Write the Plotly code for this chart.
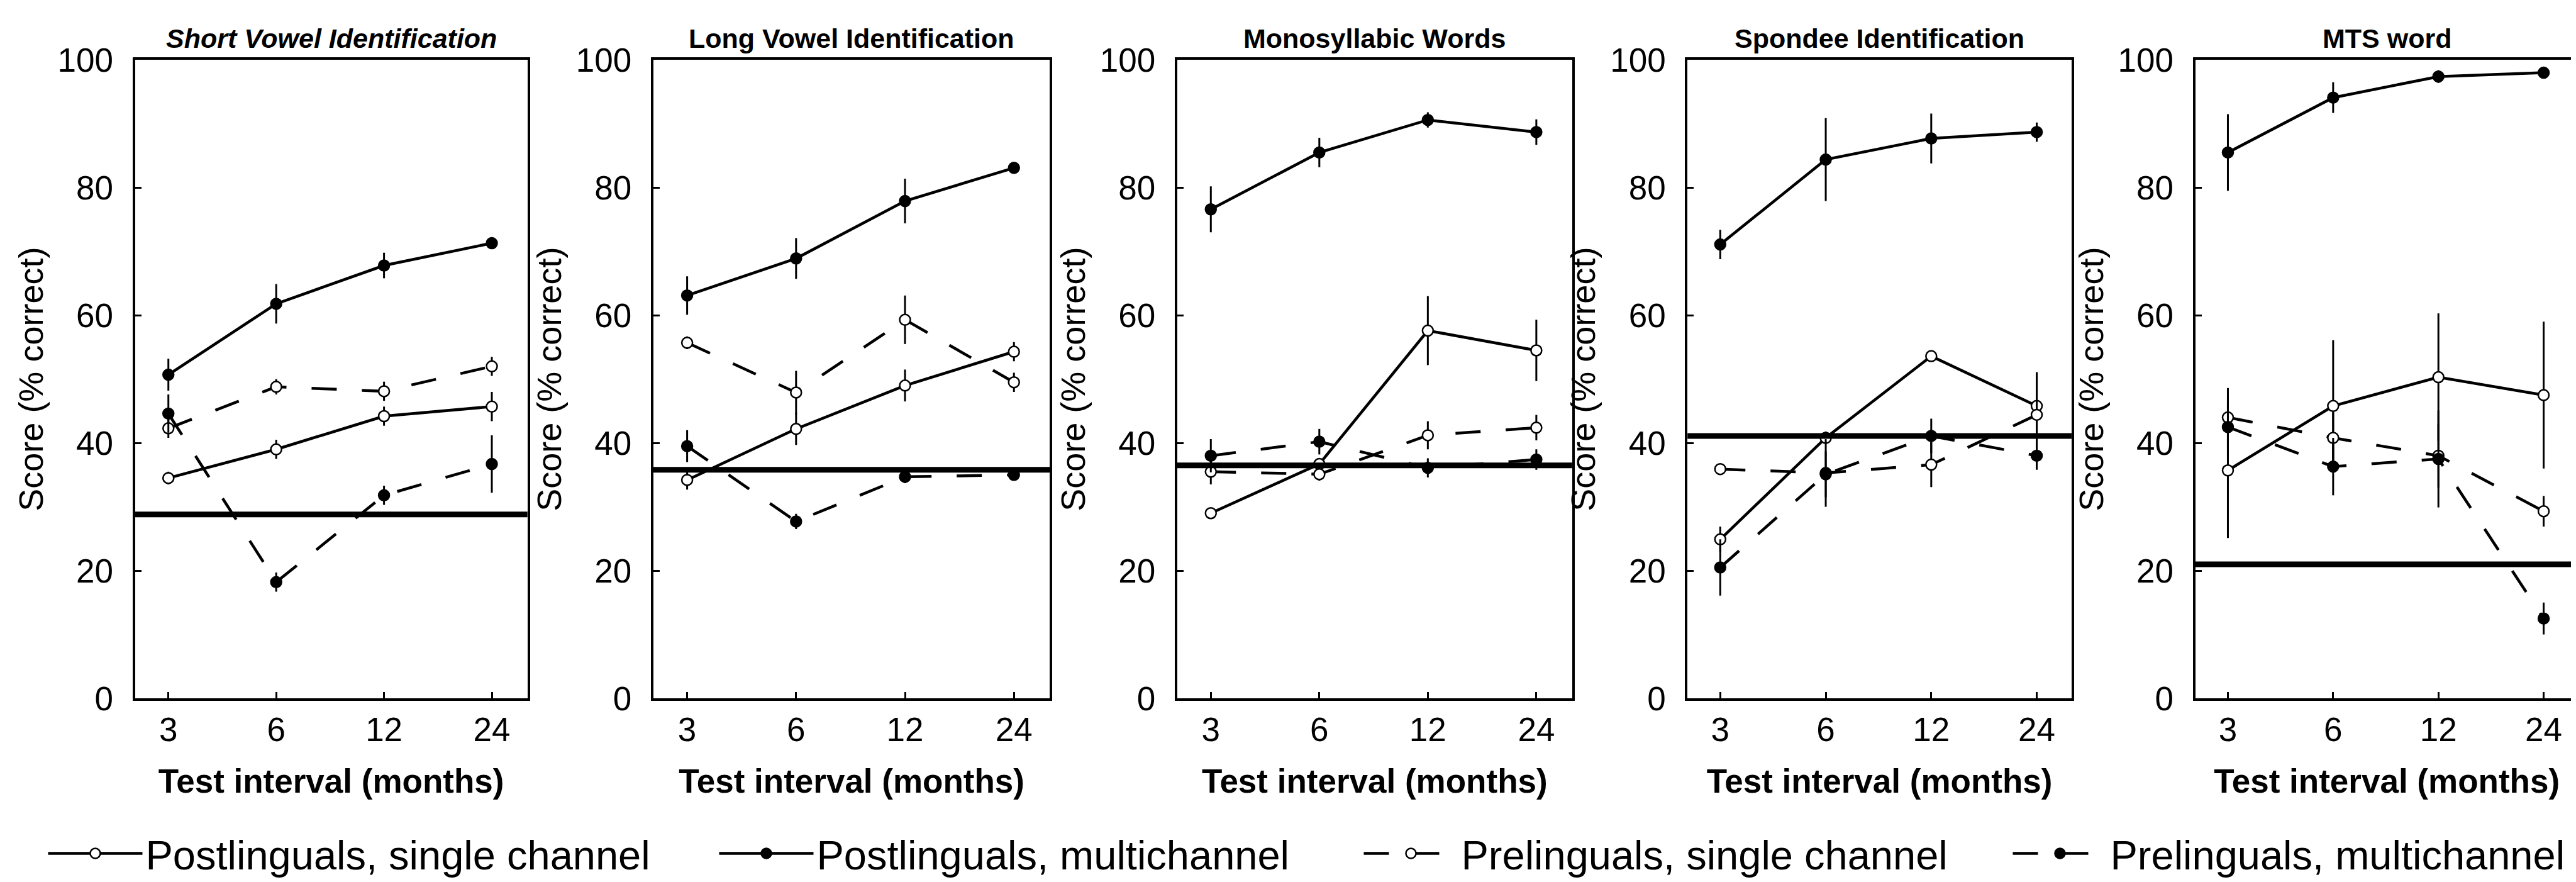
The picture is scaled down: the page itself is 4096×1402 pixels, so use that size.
import plotly.graph_objects as go

# ---------------- data ----------------
intervals = ["3", "6", "12", "24"]
panel_titles = ["Short Vowel Identification", "Long Vowel Identification",
                "Monosyllabic Words", "Spondee Identification", "MTS word"]
chance = [28.8, 35.8, 36.5, 41.1, 21.0]

post_single = [[34.5, 39.0, 44.2, 45.7], [34.2, 42.2, 49.0, 54.3], [29.0, 36.7, 57.6, 54.5],
               [24.9, 40.8, 53.6, 45.8], [35.7, 45.8, 50.3, 47.5]]
post_single_err = [[1.0, 1.5, 1.5, 2.3], [1.5, 2.5, 2.5, 1.5], [0.8, 0.8, 5.4, 4.8],
                   [2.0, 1.0, 0.5, 5.3], [10.6, 10.3, 10.0, 11.5]]
post_multi = [[50.7, 61.8, 67.8, 71.3], [63.1, 68.9, 77.9, 83.1], [76.6, 85.5, 90.6, 88.7],
              [71.1, 84.4, 87.7, 88.7], [85.5, 94.1, 97.4, 98.0]]
post_multi_err = [[2.5, 3.1, 2.0, 0.5], [3.0, 3.2, 3.5, 0.8], [3.6, 2.3, 1.2, 2.0],
                  [2.3, 6.5, 3.9, 1.5], [6.0, 2.4, 1.0, 0.8]]
pre_single = [[42.3, 48.8, 48.1, 52.0], [55.7, 47.9, 59.3, 49.5], [35.5, 35.1, 41.2, 42.4],
              [35.9, 35.3, 36.6, 44.4], [44.0, 40.8, 38.0, 29.3]]
pre_single_err = [[1.5, 1.2, 1.5, 1.5], [1.0, 3.4, 3.8, 1.5], [2.0, 1.0, 2.2, 2.0],
                  [0.7, 5.3, 3.5, 6.4], [4.6, 4.0, 5.0, 2.4]]
pre_multi = [[44.6, 18.2, 31.8, 36.7], [39.5, 27.7, 34.7, 35.0], [38.0, 40.2, 36.1, 37.4],
             [20.5, 35.1, 41.1, 38.0], [42.5, 36.3, 37.5, 12.5]]
pre_multi_err = [[3.0, 1.5, 1.5, 4.5], [2.5, 1.2, 1.0, 0.8], [2.6, 2.0, 1.5, 1.6],
                 [4.4, 3.6, 2.7, 2.2], [5.0, 4.5, 7.6, 2.5]]

series_names = ["Postlinguals, single channel", "Postlinguals, multichannel",
                "Prelinguals, single channel", "Prelinguals, multichannel"]

# ---------------- styling / layout ----------------
W, H = 4096, 1402
FONT = "Liberation Sans, Arial, Helvetica, sans-serif"
panel_left_px = [206.6, 1030.9, 1863.8, 2675.3, 3482.6]
panel_width_px = [624.0, 630.5, 628.0, 610.6, 609.2]
top_px, bottom_px = 87.3, 1102.0
legend_entry_px = [902, 860, 867, 760]

series = [
    (post_single, post_single_err, "solid", "white"),
    (post_multi, post_multi_err, "solid", "black"),
    (pre_single, pre_single_err, "40px,40px", "white"),
    (pre_multi, pre_multi_err, "40px,40px", "black"),
]

fig = go.Figure()
for p in range(5):
    ax = "" if p == 0 else str(p + 1)
    for s, (vals, errs, dash, fill) in enumerate(series):
        fig.add_trace(go.Scatter(
            x=list(range(len(intervals))), y=vals[p],
            mode="lines+markers",
            name=series_names[s],
            legendgroup=series_names[s],
            showlegend=(p == 0),
            legendwidth=legend_entry_px[s],
            line=dict(color="black", width=4.5, dash=dash),
            marker=dict(symbol="circle", size=17, color=fill,
                        line=dict(color="black", width=2.5)),
            error_y=dict(type="data", array=errs[p], visible=True,
                         color="black", thickness=3, width=0),
            xaxis="x" + ax, yaxis="y" + ax,
        ))
    fig.add_shape(type="line", xref="x" + ax + " domain", yref="y" + ax,
                  x0=0, x1=1, y0=chance[p], y1=chance[p],
                  line=dict(color="black", width=9))
    fig.add_annotation(text=panel_titles[p], xref="x" + ax + " domain", yref="y" + ax + " domain",
                       x=0.5, y=1, xanchor="center", yanchor="bottom", yshift=8,
                       showarrow=False,
                       font=dict(family=FONT, size=43, color="black",
                                 style="italic" if p == 0 else "normal",
                                 weight="bold"))
    x0 = panel_left_px[p] / W
    x1 = (panel_left_px[p] + panel_width_px[p]) / W
    fig.update_layout({
        "xaxis" + ax: dict(
            domain=[x0, x1], anchor="y" + ax, range=[-0.31, 3.33],
            tickmode="array", tickvals=list(range(len(intervals))), ticktext=intervals,
            ticks="inside", ticklen=10, tickwidth=3, tickcolor="black",
            showline=True, linewidth=4, linecolor="black", mirror=True,
            showgrid=False, zeroline=False, ticklabelstandoff=0,
            tickfont=dict(family=FONT, size=53, color="black"),
            title=dict(text="Test interval (months)", standoff=36,
                       font=dict(family=FONT, size=53, color="black", weight="bold")),
        ),
        "yaxis" + ax: dict(
            domain=[1 - bottom_px / H, 1 - top_px / H], anchor="x" + ax, range=[0, 100],
            tickmode="array", tickvals=[0, 20, 40, 60, 80, 100],
            ticks="inside", ticklen=10, tickwidth=3, tickcolor="black",
            showline=True, linewidth=4, linecolor="black", mirror=True,
            showgrid=False, zeroline=False, ticklabelstandoff=20,
            tickfont=dict(family=FONT, size=53, color="black"),
            title=dict(text="Score (% correct)", standoff=7,
                       font=dict(family=FONT, size=54, color="black")),
        ),
    })

fig.update_layout(
    width=W, height=H,
    margin=dict(l=0, r=0, t=0, b=0, autoexpand=False),
    paper_bgcolor="white", plot_bgcolor="white",
    font=dict(family=FONT, color="black"),
    legend=dict(orientation="h", x=0.0155, xanchor="left", y=0.038, yanchor="middle",
                font=dict(family=FONT, size=65, color="black"),
                itemwidth=150, bgcolor="rgba(0,0,0,0)"),
)

fig.write_html("out.html")
